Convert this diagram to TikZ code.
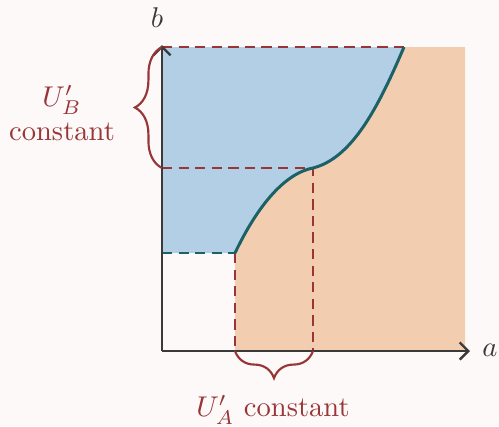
\documentclass[tikz,border=0pt]{standalone}
\usetikzlibrary{decorations.pathreplacing,arrows.meta}
\definecolor{bgcol}{HTML}{FDF9F8}
\definecolor{regionB}{HTML}{B3CFE5}
\definecolor{regionA}{HTML}{F2CDB0}
\definecolor{darkred}{HTML}{983537}
\definecolor{darkteal}{HTML}{1A6168}
\definecolor{axisgray}{HTML}{3A3A3A}
\begin{document}
\begin{tikzpicture}[x=0.35pt, y=0.35pt,
  axis/.style={draw=axisgray, line width=0.85pt, -{Straight Barb[length=3pt]}},
  guide/.style={draw=darkred, line width=0.75pt, dash pattern=on 3.6pt off 2.2pt},
  bracelabel/.style={decorate, decoration={brace, amplitude=9.5pt}, draw=darkred, line width=0.75pt},
  lbl/.style={text=darkred, font=\normalsize, align=center}]
  \useasboundingbox[fill=bgcol] (0,0) rectangle (499,426);
  % corner points
  \coordinate (O) at (162,75);
  \coordinate (xend) at (470,75);
  \coordinate (yend) at (162,381);
  \coordinate (low) at (235,173);
  \coordinate (mid) at (313,258);
  \coordinate (top) at (404,379);
  \coordinate (topleft) at (162,379);
  \coordinate (midleft) at (162,258);
  \coordinate (lowleft) at (162,173);
  \coordinate (lowbase) at (235,75);
  \coordinate (midbase) at (313,75);
  % regions
  \fill[regionA] (lowbase) -- (low) .. controls (255,215) and (282,252) .. (mid)
    .. controls (352,268) and (378,318) .. (top) -- (465,379) -- (465,75) -- cycle;
  \fill[regionB] (lowleft) -- (low) .. controls (255,215) and (282,252) .. (mid)
    .. controls (352,268) and (378,318) .. (top) -- (topleft) -- cycle;
  % dashed guides
  \draw[guide] (topleft) -- (top);
  \draw[guide] (midleft) -- (mid) -- (midbase);
  \draw[guide] (low) -- (lowbase);
  \draw[guide, draw=darkteal] (lowleft) -- (low);
  % boundary curve
  \draw[darkteal, line width=1.05pt] (low) .. controls (255,215) and (282,252) .. (mid)
    .. controls (352,268) and (378,318) .. (top);
  % axes
  \draw[axis] (O) -- (xend);
  \draw[axis] (O) -- (yend);
  \node[text=axisgray] (alabel) at (490,76) {$a$};
  \node[text=axisgray] (blabel) at (157,408) {$b$};
  % braces
  \draw[bracelabel] (midleft) -- (topleft);
  \draw[bracelabel] (midbase) -- (lowbase);
  \node[lbl] (UB) at (62,313) {$U'_B$\\constant};
  \node[lbl] (UA) at (273,16) {$U'_A$ constant};
\end{tikzpicture}
\end{document}
